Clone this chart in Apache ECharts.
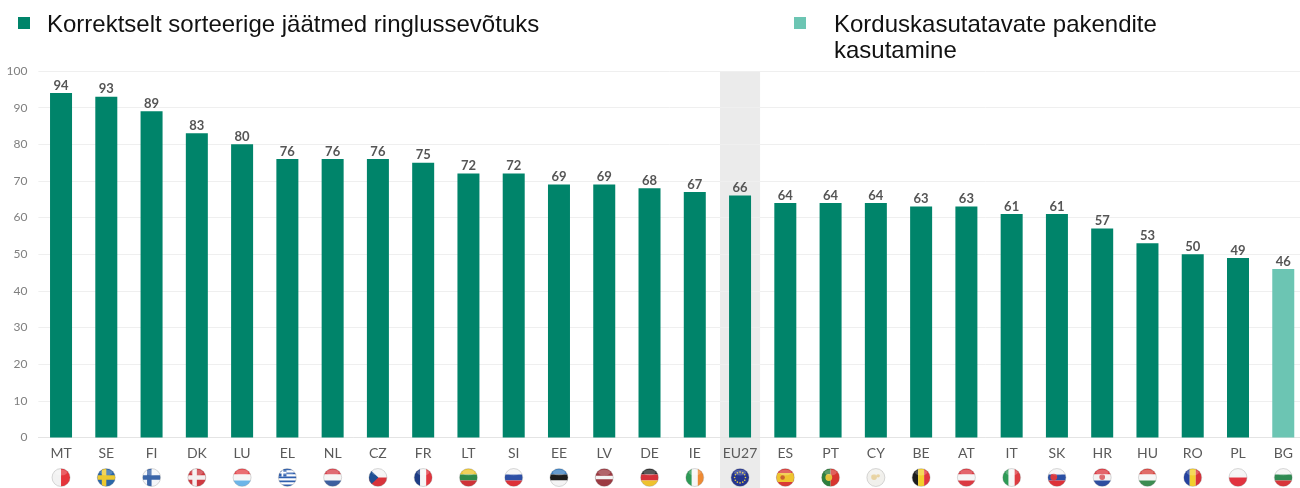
<!DOCTYPE html>
<html>
<head>
<meta charset="utf-8">
<style>html,body{margin:0;padding:0;background:#fff}#c{width:1300px;height:488px}</style>
<script src="https://cdn.jsdelivr.net/npm/echarts@6/dist/echarts.min.js"></script>
</head>
<body>
<div id="c"></div>
<script>
const categories = ['MT','SE','FI','DK','LU','EL','NL','CZ','FR','LT','SI','EE','LV','DE','IE','EU27','ES','PT','CY','BE','AT','IT','SK','HR','HU','RO','PL','BG'];
const sortedWaste = [94,93,89,83,80,76,76,76,75,72,72,69,69,68,67,66,64,64,64,63,63,61,61,57,53,50,49,null];
const reusablePackaging = [null,null,null,null,null,null,null,null,null,null,null,null,null,null,null,null,null,null,null,null,null,null,null,null,null,null,null,46];
const seriesNames = ['Korrektselt sorteerige jäätmed ringlussevõtuks','Korduskasutatavate pakendite kasutamine'];
const highlighted = ['EU27'];
const legendIcon = 'path://M0 0H12V12H0ZM0 16L0 16Z';

// Flag drawings in a unit square (-1..1): [kind, ...colours]
const h = (...c) => c.map((col,i)=>['r',-1,-1+2*i/c.length,2,2/c.length,col]);
const v = (...c) => c.map((col,i)=>['r',-1+2*i/c.length,-1,2/c.length,2,col]);
const nordic = (bg,cross,inner) => {
  const o=[['r',-1,-1,2,2,bg],['r',-1,-.25,2,.5,cross],['r',-.5,-1,.5,2,cross]];
  if(inner) o.push(['r',-1,-.1,2,.2,inner],['r',-.35,-1,.2,2,inner]);
  return o;
};
const greece = [];
for(let i=0;i<9;i++) greece.push(['r',-1,-1+2*i/9,2,2/9,i%2?'#fff':'#2f5fae']);
greece.push(['r',-1,-1,.9,.9,'#2f5fae'],['r',-.65,-1,.2,.9,'#fff'],['r',-1,-.65,.9,.2,'#fff']);
const eu = [['r',-1,-1,2,2,'#24358f']];
[[0,-.6],[.3,-.52],[.52,-.3],[.6,0],[.52,.3],[.3,.52],[0,.6],[-.3,.52],[-.52,.3],[-.6,0],[-.52,-.3],[-.3,-.52]]
  .forEach(p=>eu.push(['c',p[0],p[1],.09,'#e8cf3a']));
const flags = {
  MT:v('#f2f2f2','#e5343b'),
  SE:nordic('#2b67a8','#edc92f'),
  FI:nordic('#f4f6f9','#3a65a8'),
  DK:nordic('#cf3a41','#f4f0f0'),
  LU:h('#e5474c','#f6f6f6','#6db5e8'),
  EL:greece,
  NL:h('#d8434d','#f6f6f6','#3d5f9f'),
  CZ:[...h('#f4f4f4','#d8333b'),['p',[[-1,-1],[.05,0],[-1,1]],'#1f4f93']],
  FR:v('#1e3d85','#f6f6f6','#e0353e'),
  LT:h('#ecc52f','#2f8a4a','#cf3338'),
  SI:h('#f4f4f4','#2d4fa5','#dd3138'),
  EE:h('#3b7fc0','#1c1c1c','#f4f4f4'),
  LV:[...h('#9b3a42','#9b3a42'),['r',-1,-.2,2,.4,'#f4f4f4']],
  DE:h('#2a2a2a','#d5323a','#eec22e'),
  IE:v('#2e9a56','#f6f6f6','#ee8a33'),
  EU27:eu,
  ES:[...h('#d93a36','#d93a36'),['r',-1,-.5,2,1,'#efc42f'],['c',-.3,0,.25,'#c9622e']],
  PT:[...v('#2f7f3e','#d8352f'),['r',-1,-1,.8,2,'#2f7f3e'],['c',-.2,0,.38,'#e6c23a']],
  CY:[['r',-1,-1,2,2,'#f1f0ec'],['c',-.2,-.05,.32,'#e8d3a2'],['c',.25,-.2,.2,'#e8d3a2']],
  BE:v('#1d1d1d','#f2cf2c','#e0353e'),
  AT:h('#db3a42','#f6f6f6','#db3a42'),
  IT:v('#2e9a56','#f6f6f6','#dd3a40'),
  SK:[...h('#f4f4f4','#2a4fa4','#dd3138'),['c',-.35,-.05,.38,'#d83a3f']],
  HR:[...h('#dc3a42','#f4f4f4','#2d4ea0'),['c',0,-.05,.32,'#dd6a6e']],
  HU:h('#d8433e','#f6f6f6','#3d8d52'),
  RO:v('#2543a0','#f2cf2c','#d8323a'),
  PL:h('#f4f4f4','#e1333f'),
  BG:h('#f4f4f4','#2f8a52','#d8353a')
};

function flagChildren(code,cx,cy,r){
  const kids = flags[code].map(s=>{
    if(s[0]==='r') return {type:'rect',shape:{x:cx+s[1]*r,y:cy+s[2]*r,width:s[3]*r,height:s[4]*r},style:{fill:s[5]}};
    if(s[0]==='c') return {type:'circle',shape:{cx:cx+s[1]*r,cy:cy+s[2]*r,r:s[3]*r},style:{fill:s[4]}};
    return {type:'polygon',shape:{points:s[1].map(p=>[cx+p[0]*r,cy+p[1]*r])},style:{fill:s[2]}};
  });
  return {
    type:'group',
    children:[
      {type:'group',children:kids,clipPath:{type:'circle',shape:{cx,cy,r}}},
      {type:'circle',shape:{cx,cy,r},style:{fill:'none',stroke:'rgba(120,120,120,0.28)',lineWidth:1}},
      {type:'ellipse',shape:{cx,cy:cy-r*.55,rx:r*.68,ry:r*.32},style:{fill:'rgba(255,255,255,0.22)'}}
    ]
  };
}

const chart = echarts.init(document.getElementById('c'),null,{renderer:'canvas'});
chart.setOption({
  animation:false,
  backgroundColor:'#ffffff',
  legend:[
    {data:[seriesNames[0]],left:18,top:12,padding:0,icon:legendIcon,itemWidth:12,itemHeight:16,itemGap:0,
     selectedMode:false,textStyle:{fontFamily:'Liberation Sans',fontSize:24,lineHeight:26,color:'#111',padding:[0,0,0,12]}},
    {data:[seriesNames[1]],left:794,top:-14.75,padding:0,icon:legendIcon,itemWidth:12,itemHeight:16,itemGap:0,
     selectedMode:false,
     formatter:n=>'\nKorduskasutatavate pakendite\nkasutamine',
     textStyle:{fontFamily:'Liberation Sans',fontSize:24,lineHeight:26.5,color:'#111',padding:[0,0,0,23]}}
  ],
  grid:{left:38.4,width:1267.5,top:71,bottom:50.5,outerBoundsMode:'none'},
  xAxis:{type:'category',data:categories,
    axisTick:{show:false},
    axisLine:{lineStyle:{color:'#e4e4e4',width:1}},
    axisLabel:{interval:0,margin:9,color:'#5a5a5a',fontSize:14,fontFamily:'Lato'}},
  yAxis:{type:'value',min:0,max:100,interval:10,
    axisLine:{show:false},axisTick:{show:false},
    axisLabel:{margin:11,color:'#7f7f7f',fontSize:12,fontFamily:'Lato'},
    splitLine:{lineStyle:{color:'#efefef',width:1}}},
  series:[
    {type:'custom',name:'highlight',z:-1,silent:true,
     data:highlighted.map(c=>[categories.indexOf(c)]),
     encode:{x:0},
     clip:false,
     renderItem:(p,api)=>{
       const pt=api.coord([api.value(0),0]);
       const top=api.coord([api.value(0),100]);
       const w=api.size([1,0])[0]*0.885;
       return {type:'rect',shape:{x:pt[0]-w/2,y:top[1],width:w,height:488-top[1]},style:{fill:'#ebebeb'}};
     }},
    {type:'bar',name:seriesNames[0],data:sortedWaste,barWidth:22,barGap:'-100%',
     itemStyle:{color:'#00846a'},
     label:{show:true,position:'top',distance:1,color:'#555',fontSize:13,fontWeight:700,fontFamily:'Lato'}},
    {type:'bar',name:seriesNames[1],data:reusablePackaging,barWidth:22,barGap:'-100%',
     itemStyle:{color:'#6cc5b3'},
     label:{show:true,position:'top',distance:1,color:'#555',fontSize:13,fontWeight:700,fontFamily:'Lato'}},
    {type:'custom',name:'flags',silent:true,clip:false,
     data:categories.map((c,i)=>[i]),
     encode:{x:0},
     renderItem:(p,api)=>{
       const i=api.value(0);
       const pt=api.coord([i,0]);
       return flagChildren(categories[i],pt[0],pt[1]+40,9);
     }}
  ]
});
</script>
</body>
</html>
